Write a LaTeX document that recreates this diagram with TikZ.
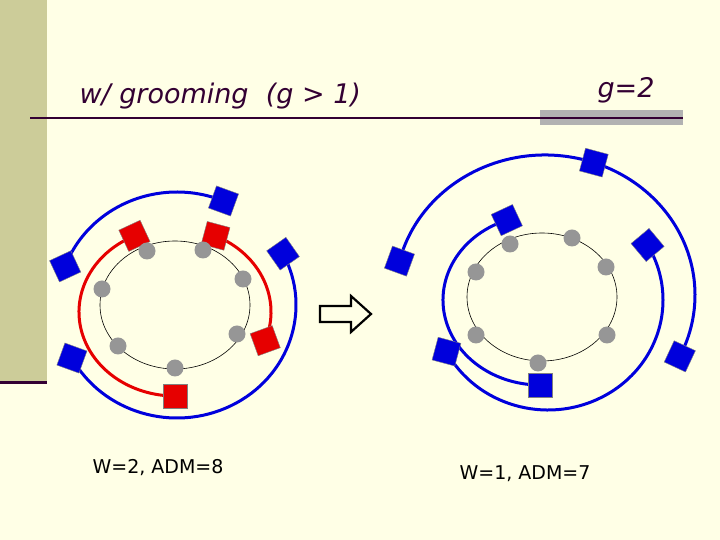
\documentclass[tikz,border=0pt]{standalone}
\usepackage{fontspec}
\setmainfont{DejaVu Sans}
\usetikzlibrary{calc}
\definecolor{bg}{RGB}{255,255,230}
\definecolor{strip}{RGB}{204,204,153}
\definecolor{dark}{RGB}{51,0,51}
\definecolor{bl}{RGB}{0,0,220}
\definecolor{rd}{RGB}{230,0,0}
\definecolor{dot}{RGB}{150,150,150}
\tikzset{
  sq/.style={draw=black!50,line width=0.4pt,minimum size=23.5pt,inner sep=0pt},
  bsq/.style={sq,fill=bl},
  rsq/.style={sq,fill=rd},
  gdot/.style={circle,fill=dot,minimum size=17pt,inner sep=0pt},
  barc/.style={draw=bl,line width=3pt},
  rarc/.style={draw=rd,line width=3pt},
  ring/.style={draw=black,line width=0.6pt},
  lbl/.style={font=\fontsize{19}{22}\selectfont},
}
\begin{document}
\begin{tikzpicture}[x=1pt,y=1pt]
\useasboundingbox (0,0) rectangle (720,540);
\fill[bg] (0,0) rectangle (720,540);
\fill[strip] (0,158) rectangle (47,540);
\draw[dark,line width=3pt] (0,157) -- (47,157);
\fill[black!30] (540,415) rectangle (683,430);
\draw[dark,line width=1.5pt] (30,422) -- (683,422);
\node[anchor=base west,font=\fontsize{27}{30}\itshape,text=dark] (title) at (76,436) {w/ grooming\ \ (g > 1)};
\node[anchor=base east,font=\fontsize{27}{30}\itshape,text=dark] (g2) at (658,442) {g=2};

% left ring
\coordinate (L) at (175,235);
\draw[ring] (L) ellipse [x radius=75,y radius=64];
\coordinate (LR) at (175,228);
\coordinate (LB) at (177,235);
\draw[barc] ($(LB)+(160:119 and 113)$) arc[start angle=160,end angle=67,x radius=119,y radius=113];
\draw[barc] ($(LB)+(27:119 and 113)$) arc[start angle=27,end angle=-152,x radius=119,y radius=113];
\draw[rarc] ($(LR)+(115:96 and 84)$) arc[start angle=115,end angle=270,x radius=96,y radius=84];
\draw[rarc] ($(LR)+(65:96 and 84)$) arc[start angle=65,end angle=-20,x radius=96,y radius=84];
\node[bsq,rotate=25] (lb1) at ($(LB)+(160:119 and 113)$) {};
\node[bsq,rotate=-20] (lb2) at ($(LB)+(67:119 and 113)$) {};
\node[bsq,rotate=35] (lb3) at ($(LB)+(27:119 and 113)$) {};
\node[bsq,rotate=-20] (lb4) at ($(LB)+(208:119 and 113)$) {};
\node[rsq,rotate=25] (lr1) at ($(LR)+(115:96 and 84)$) {};
\node[rsq,rotate=0] (lr2) at ($(LR)+(270:96 and 84)$) {};
\node[rsq,rotate=-15] (lr3) at ($(LR)+(65:96 and 84)$) {};
\node[rsq,rotate=20] (lr4) at ($(LR)+(-20:96 and 84)$) {};
\foreach \p [count=\i] in {(147,289),(203,290),(243,261),(237,206),(175,172),(118,194),(102,251)}
  \node[gdot] (ld\i) at \p {};

% arrow
\draw[line width=2.2pt,fill=bg,line join=miter] (320,234) -- (351,234) -- (351,244) -- (371,226) -- (351,208) -- (351,218) -- (320,218) -- cycle;

% right ring
\coordinate (R) at (542,243);
\draw[ring] (R) ellipse [x radius=75,y radius=64];
\coordinate (RM) at (540,240);
\coordinate (RO) at (545,245);
\coordinate (RP) at (548,240);
\draw[barc] ($(RO)+(166:150 and 140)$) arc[start angle=166,end angle=-26,x radius=150,y radius=140];
\draw[barc] ($(RP)+(208:115 and 110)$) arc[start angle=208,end angle=390,x radius=115,y radius=110];
\draw[barc] ($(RM)+(110:97 and 85)$) arc[start angle=110,end angle=270,x radius=97,y radius=85];
\node[bsq,rotate=-20] (rb1) at ($(RO)+(166:150 and 140)$) {};
\node[bsq,rotate=-15] (rb2) at ($(RO)+(71:150 and 140)$) {};
\node[bsq,rotate=-25] (rb3) at ($(RO)+(-26:150 and 140)$) {};
\node[bsq,rotate=-15] (rb4) at ($(RP)+(208:115 and 110)$) {};
\node[bsq,rotate=40] (rb5) at ($(RP)+(30:115 and 110)$) {};
\node[bsq,rotate=25] (rb6) at ($(RM)+(110:97 and 85)$) {};
\node[bsq,rotate=0] (rb7) at ($(RM)+(270:97 and 85)$) {};
\foreach \p [count=\i] in {(510,296),(572,302),(606,273),(607,205),(538,177),(476,205),(476,268)}
  \node[gdot] (rd\i) at \p {};

\node[lbl] (wl) at (158,72) {W=2, ADM=8};
\node[lbl] (wr) at (525,66) {W=1, ADM=7};
\end{tikzpicture}
\end{document}
